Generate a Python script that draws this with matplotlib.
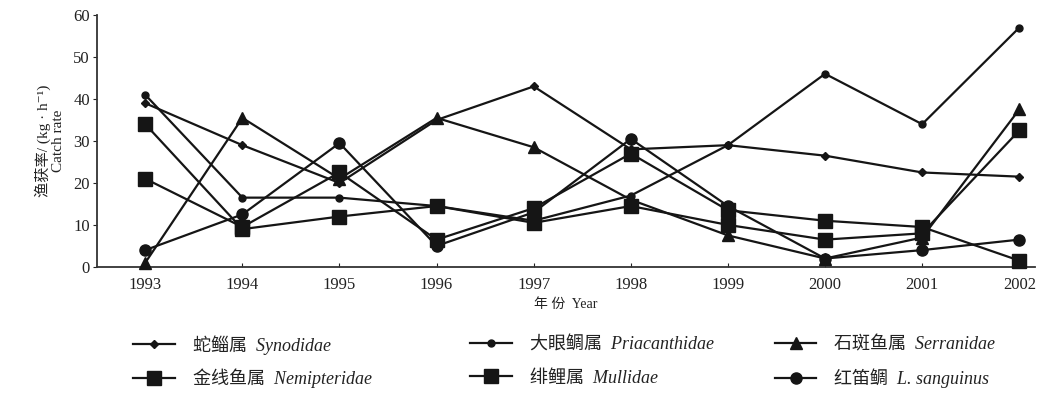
import matplotlib
matplotlib.use("Agg")
import matplotlib.pyplot as plt

plt.rcParams["font.family"] = ["Liberation Serif", "Noto Sans CJK SC", "DejaVu Serif"]

years = [1993, 1994, 1995, 1996, 1997, 1998, 1999, 2000, 2001, 2002]

# catch rate, kg/h
synodidae = [39, 29, 20, 35, 43, 28, 29, 26.5, 22.5, 21.5]
priacanthidae = [41, 16.5, 16.5, 14.5, 11, 17, 29, 46, 34, 57]
serranidae = [1, 35.5, 21, 35.5, 28.5, 16, 7.5, 2, 7, 37.5]
nemipteridae = [34, 9, 12, 14.5, 10.5, 14.5, 10, 6.5, 8, 32.5]
mullidae = [21, 9.5, 22.5, 6.5, 14, 27, 13.5, 11, 9.5, 1.5]
l_sanguineus = [4, 12.5, 29.5, 5, 13, 30.5, 14.5, 2, 4, 6.5]

# Chinese genus name + latin name (latin part is set in italic)
labels = [
    "蛇鲻属  Synodidae",
    "大眼鲷属  Priacanthidae",
    "石斑鱼属  Serranidae",
    "金线鱼属  Nemipteridae",
    "绯鲤属  Mullidae",
    "红笛鲷  L. sanguinus",
]

ink = "#151515"
series = [
    (synodidae, "D", 4.5),
    (priacanthidae, "o", 5),
    (serranidae, "^", 8),
    (nemipteridae, "s", 10),
    (mullidae, "s", 10),
    (l_sanguineus, "o", 8),
]

fig = plt.figure(figsize=(10.4, 3.96), dpi=100)
ax = fig.add_axes([0.093, 0.326, 0.902, 0.636])

handles = []
for vals, mk, ms in series:
    h, = ax.plot(years, vals, color=ink, lw=1.6, marker=mk, ms=ms,
                 mfc=ink, mec=ink, clip_on=False, zorder=3)
    handles.append(h)

ax.set_xlim(1992.5, 2002.16)
ax.set_ylim(0, 60)
ax.set_xticks(years)
ax.set_yticks(range(0, 61, 10))
for s in ("top", "right"):
    ax.spines[s].set_visible(False)
for s in ("left", "bottom"):
    ax.spines[s].set_color("#333333")
    ax.spines[s].set_linewidth(1.3)
ax.tick_params(axis="x", direction="in", length=3, labelsize=12, pad=7, colors="#222222")
ax.tick_params(axis="y", direction="out", length=3, labelsize=12, pad=2, colors="#222222")

ax.set_xlabel("年 份  Year", fontsize=10, labelpad=4, color="#222222")
ax.set_ylabel("渔获率/ (kg · h⁻¹)\nCatch rate", fontsize=11, labelpad=6,
              color="#222222", linespacing=1.1)

# legend grid: one single-entry legend per cell so rows line up
col_x = [0.128, 0.452, 0.745]
row_y = [0.129, 0.045]
for i, (h, lab) in enumerate(zip(handles, labels)):
    x, y = col_x[i % 3], row_y[i // 3]
    leg = fig.legend([h], [lab], loc="center left", bbox_to_anchor=(x, y),
                     frameon=False, fontsize=13, handlelength=2.3,
                     handletextpad=1.0, labelcolor="#222222",
                     borderpad=0, borderaxespad=0)
    for t in leg.get_texts():
        t.set_fontstyle("italic")

fig.savefig("out.png", dpi=100)
